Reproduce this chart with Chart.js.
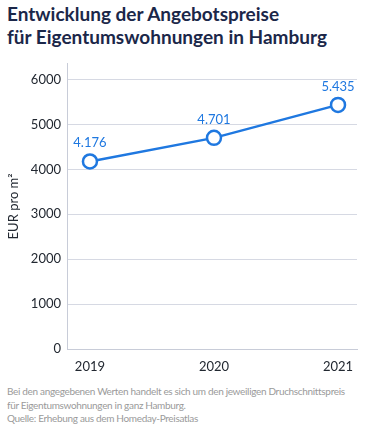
<!DOCTYPE html>
<html lang="de">
<head>
<meta charset="UTF-8">
<title>Angebotspreise Hamburg</title>
<script src="https://cdn.jsdelivr.net/npm/chart.js"></script>
<style>
    body {
        margin: 0;
        width: 375px;
        height: 429px;
        background: #ffffff;
        font-family: 'Lato', sans-serif;
        position: relative;
        overflow: hidden;
    }
    h1 {
        position: absolute;
        left: 7px;
        top: 2px;
        margin: 0;
        font-size: 19px;
        line-height: 23px;
        font-weight: bold;
        color: #1b2749;
    }
    .chart-box {
        position: absolute;
        left: 0;
        top: 50px;
        width: 375px;
        height: 329px;
    }
    .note {
        position: absolute;
        left: 7px;
        top: 385px;
        margin: 0;
        font-size: 10px;
        letter-spacing: -0.33px;
        line-height: 13.5px;
        color: #9a9a9a;
        white-space: nowrap;
    }
</style>
</head>
<body>
    <h1>Entwicklung der Angebotspreise<br>für Eigentumswohnungen in Hamburg</h1>
    <div class="chart-box"><canvas id="chart"></canvas></div>
    <p class="note">Bei den angegebenen Werten handelt es sich um den jeweiligen Druchschnittspreis<br>für Eigentumswohnungen in ganz Hamburg.<br>Quelle: Erhebung aus dem Homeday-Preisatlas</p>

<script>
    // Daten
    const years = [2019, 2020, 2021];
    const prices = [4176, 4701, 5435];
    const priceLabels = ['4.176', '4.701', '5.435'];
    const yTicks = [0, 1000, 2000, 3000, 4000, 5000, 6000];

    const blue = '#1f78e0';

    // Werte über den Punkten
    const valueLabels = {
        id: 'valueLabels',
        afterDatasetsDraw(chart) {
            const ctx = chart.ctx;
            const meta = chart.getDatasetMeta(0);
            ctx.save();
            ctx.font = '13px Lato, sans-serif';
            ctx.fillStyle = blue;
            ctx.textAlign = 'center';
            ctx.textBaseline = 'bottom';
            meta.data.forEach((pt, i) => {
                ctx.fillText(priceLabels[i], pt.x, pt.y - 12);
            });
            ctx.restore();
        }
    };

    new Chart(document.getElementById('chart'), {
        type: 'line',
        data: {
            datasets: [{
                data: years.map((y, i) => ({ x: y, y: prices[i] })),
                borderColor: blue,
                borderWidth: 2.5,
                pointRadius: 7,
                pointHoverRadius: 7,
                pointBorderWidth: 2.5,
                pointBackgroundColor: '#ffffff',
                pointBorderColor: blue,
                tension: 0
            }]
        },
        options: {
            responsive: true,
            maintainAspectRatio: false,
            animation: false,
            layout: { padding: { top: 0, right: 18, left: 0, bottom: 0 } },
            plugins: {
                legend: { display: false },
                tooltip: { enabled: false }
            },
            scales: {
                x: {
                    type: 'linear',
                    min: 2018.815,
                    max: 2021.153,
                    afterBuildTicks: s => { s.ticks = years.map(v => ({ value: v })); },
                    afterFit: s => { s.height = 30; },
                    grid: { display: false, drawTicks: false },
                    border: { color: '#c8ccd8' },
                    ticks: {
                        padding: 10,
                        color: '#222831',
                        font: { family: 'Lato', size: 13 },
                        callback: v => String(v)
                    }
                },
                y: {
                    min: 0,
                    max: 6350,
                    afterBuildTicks: s => { s.ticks = yTicks.map(v => ({ value: v })); },
                    afterFit: s => { s.width = 67; },
                    grid: { color: '#d6d9e3', drawTicks: false },
                    border: { color: '#c8ccd8' },
                    ticks: {
                        padding: 6,
                        color: '#222831',
                        font: { family: 'Lato', size: 13 },
                        callback: v => String(v)
                    },
                    title: {
                        display: true,
                        text: 'EUR pro m²',
                        color: '#222831',
                        font: { family: 'Lato', size: 13 },
                        padding: { top: 6, bottom: 4 }
                    }
                }
            }
        },
        plugins: [valueLabels]
    });
</script>
</body>
</html>
